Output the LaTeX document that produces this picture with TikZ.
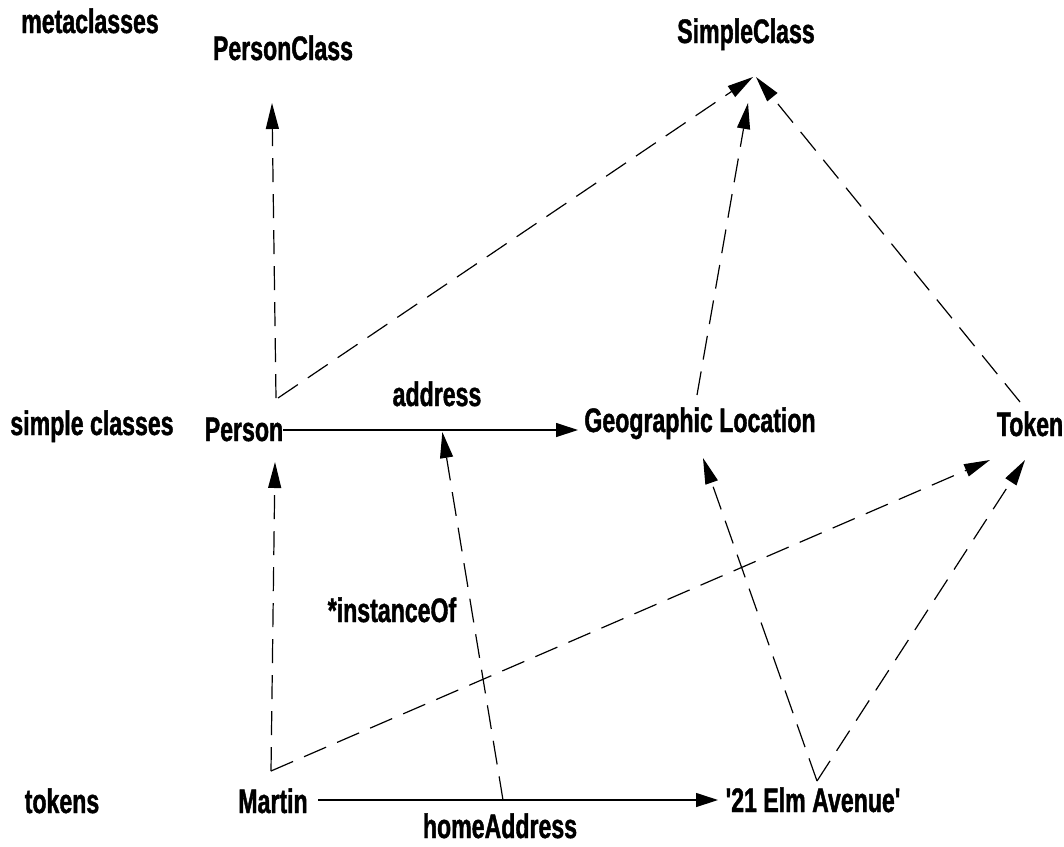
\documentclass[tikz,border=0pt]{standalone}
\usepackage{fontspec}
\newfontfamily\lblfont{Liberation Sans}[FakeStretch=0.68,FakeBold=1.2]
\usetikzlibrary{arrows.meta}
\begin{document}
\begin{tikzpicture}[x=1pt,y=-1pt,
  lbl/.style={anchor=base, inner sep=0pt, font=\lblfont\bfseries\fontsize{34}{40}\selectfont},
  dep/.style={draw, line width=1.2pt, dash pattern=on 24pt off 12pt, -{Triangle[length=26pt,width=13pt]}},
  rel/.style={draw, line width=1.2pt, -{Triangle[length=22pt,width=14pt]}}]
\useasboundingbox (0,0) rectangle (1064,846);
% labels
\node[lbl] (meta) at (90,33) {metaclasses};
\node[lbl] (simp) at (92,435) {simple classes};
\node[lbl] (tok)  at (62,813) {tokens};
% nodes
\node[lbl] (personclass) at (283,60) {PersonClass};
\node[lbl] (simpleclass) at (746,43) {SimpleClass};
\node[lbl] (person) at (244,441) {Person};
\node[lbl] (geo) at (700,432) {Geographic Location};
\node[lbl] (token) at (1030,436) {Token};
\node[lbl] (martin) at (273,813) {Martin};
\node[lbl] (elm) at (813,812) {'21 Elm Avenue'};
% relations
\draw[rel] ([shift={(39,-11)}]person.base) -- coordinate[pos=0.539] (addrpt) ([shift={(-122,-2)}]geo.base);
\draw[rel] ([shift={(45,-13)}]martin.base) -- coordinate[pos=0.4625] (homept) ([shift={(-95,-12)}]elm.base);
\node[lbl] (addrlbl) at (437,406) {address};
\node[lbl] (homelbl) at (500,838) {homeAddress};
\node[lbl] (instlbl) at (392,622) {*instanceOf};
% instance-of links
\draw[dep] ([shift={(32,-43)}]person.base) -- ([shift={(-11,43)}]personclass.base);
\draw[dep] ([shift={(34,-43)}]person.base) -- ([shift={(7,34)}]simpleclass.base);
\draw[dep] ([shift={(-3,-37)}]geo.base) -- ([shift={(2,60)}]simpleclass.base);
\draw[dep] ([shift={(-10,-34)}]token.base) -- ([shift={(10,34)}]simpleclass.base);
\draw[dep] ([shift={(-2,-42)}]martin.base) -- ([shift={(31,21)}]person.base);
\draw[dep] ([shift={(-2,-42)}]martin.base) -- ([shift={(-40,24)}]token.base);
\draw[dep] ([shift={(4,-31)}]elm.base) -- ([shift={(3,26)}]geo.base);
\draw[dep] ([shift={(4,-31)}]elm.base) -- ([shift={(-5,24)}]token.base);
\draw[dep, shorten >=2pt] (homept) -- (addrpt);
\end{tikzpicture}
\end{document}
